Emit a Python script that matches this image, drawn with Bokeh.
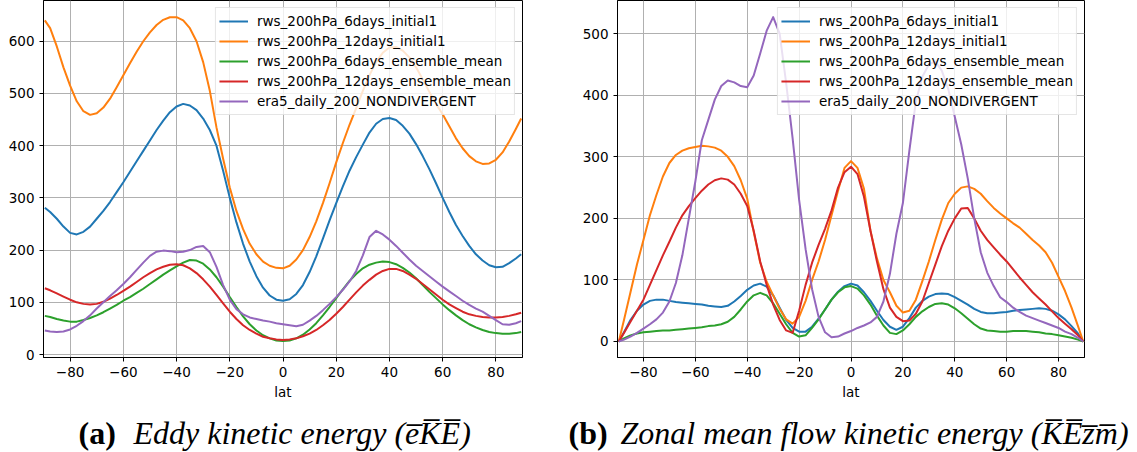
from bokeh.plotting import figure
from bokeh.layouts import row, column
from bokeh.models import Range1d, FixedTicker
from bokeh.core.properties import value
from bokeh.embed import file_html
from bokeh.resources import INLINE

# ---------------- data ----------------
lat = [-89.5, -87.5, -85, -82.5, -80, -77.5, -75, -72.5, -70, -67.5,
       -65, -62.5, -60, -57.5, -55, -52.5, -50, -47.5, -45, -42.5,
       -40, -37.5, -35, -32.5, -30, -27.5, -25, -22.5, -20, -17.5,
       -15, -12.5, -10, -7.5, -5, -2.5, 0, 2.5, 5, 7.5,
       10, 12.5, 15, 17.5, 20, 22.5, 25, 27.5, 30, 32.5,
       35, 37.5, 40, 42.5, 45, 47.5, 50, 52.5, 55, 57.5,
       60, 62.5, 65, 67.5, 70, 72.5, 75, 77.5, 80, 82.5,
       85, 87.5, 89.5]

series_names = ["rws_200hPa_6days_initial1", "rws_200hPa_12days_initial1",
                "rws_200hPa_6days_ensemble_mean", "rws_200hPa_12days_ensemble_mean",
                "era5_daily_200_NONDIVERGENT"]
series_colors = ["#1f77b4", "#ff7f0e", "#2ca02c", "#d62728", "#9467bd"]

# (a) Eddy kinetic energy
eke_6days_initial1 = [281, 273, 260, 245, 233, 230, 235, 245, 260, 275,
                      292, 311, 330, 350, 370, 390, 410, 430, 448, 464,
                      475, 480, 477, 468, 452, 430, 400, 352, 300, 253,
                      212, 178, 150, 128, 113, 105, 103, 106, 116, 133,
                      158, 188, 222, 257, 290, 322, 352, 378, 402, 425,
                      442, 451, 453, 449, 438, 423, 403, 380, 355, 328,
                      300, 273, 248, 227, 208, 192, 180, 171, 167, 168,
                      175, 184, 192]
eke_12days_initial1 = [640, 625, 590, 550, 515, 485, 466, 459, 462, 473,
                       490, 512, 535, 558, 580, 600, 617, 631, 641, 646,
                       646, 640, 625, 600, 560, 505, 435, 375, 320, 275,
                       240, 212, 192, 178, 170, 166, 165, 170, 182, 200,
                       225, 255, 290, 328, 368, 405, 440, 472, 505, 535,
                       560, 578, 588, 589, 582, 569, 550, 527, 503, 480,
                       460, 437, 414, 395, 380, 370, 365, 366, 373, 387,
                       408, 432, 452]
eke_6days_ensemble = [74, 72, 68, 65, 63, 63, 66, 70, 75, 81,
                      88, 95, 103, 110, 118, 126, 135, 144, 153, 161,
                      169, 176, 181, 180, 174, 163, 148, 130, 110, 91,
                      73, 58, 46, 37, 31, 27, 26, 27, 31, 38,
                      48, 60, 75, 91, 108, 125, 141, 154, 165, 172,
                      176, 178, 177, 173, 166, 157, 146, 133, 120, 108,
                      96, 85, 75, 66, 58, 52, 47, 43, 41, 40,
                      40, 41, 43]
eke_12days_ensemble = [127, 123, 117, 111, 105, 100, 97, 96, 97, 101,
                       107, 114, 122, 130, 139, 148, 156, 163, 168, 172,
                       173, 171, 165, 156, 144, 130, 114, 98, 82, 68,
                       56, 47, 40, 34, 31, 29, 28, 29, 31, 35,
                       40, 47, 56, 66, 78, 91, 105, 119, 132, 143,
                       153, 160, 164, 164, 160, 153, 145, 135, 125, 115,
                       105, 96, 89, 82, 77, 74, 72, 71, 71, 72,
                       74, 77, 80]
eke_era5 = [46, 44, 43, 44, 48, 55, 64, 75, 88, 100,
            112, 123, 135, 148, 162, 176, 189, 197, 199, 198,
            196, 197, 200, 206, 208, 196, 168, 133, 105, 87,
            77, 71, 68, 65, 63, 60, 58, 56, 54, 57,
            65, 74, 85, 97, 110, 124, 140, 160, 190, 225,
            237, 230, 220, 208, 195, 182, 170, 160, 150, 140,
            130, 121, 112, 103, 95, 88, 82, 74, 66, 58,
            57, 60, 64]

# (b) Zonal mean flow kinetic energy
kezm_6days_initial1 = [0, 15, 35, 50, 60, 66, 68, 68, 66, 64,
                       63, 62, 61, 60, 58, 57, 56, 58, 65, 74,
                       84, 91, 94, 89, 75, 55, 35, 22, 16, 16,
                       24, 37, 52, 68, 81, 90, 94, 91, 80, 66,
                       50, 35, 24, 19, 24, 38, 55, 66, 73, 77,
                       78, 77, 72, 66, 60, 53, 48, 46, 46, 47,
                       48, 50, 51, 52, 53, 54, 53, 50, 44, 36,
                       25, 13, 0]
kezm_12days_initial1 = [0, 35, 80, 125, 165, 205, 238, 268, 290, 303,
                        310, 314, 316, 318, 317, 315, 310, 300, 285, 262,
                        232, 178, 128, 97, 75, 53, 36, 29, 40, 66,
                        100, 130, 165, 205, 245, 282, 293, 282, 248, 180,
                        135, 100, 80, 58, 47, 50, 68, 98, 130, 165,
                        198, 225, 240, 250, 252, 248, 240, 228, 217, 208,
                        200, 192, 185, 175, 165, 156, 145, 128, 105, 82,
                        55, 25, 0]
kezm_6days_ensemble = [0, 5, 10, 13, 15, 16, 17, 18, 18, 19,
                       20, 21, 22, 23, 25, 26, 28, 32, 40, 52,
                       65, 75, 79, 75, 62, 45, 28, 14, 8, 10,
                       22, 36, 52, 68, 80, 88, 90, 86, 75, 60,
                       42, 26, 14, 12, 18, 28, 40, 49, 56, 61,
                       62, 60, 54, 46, 37, 28, 21, 18, 17, 16,
                       16, 17, 17, 17, 16, 15, 13, 12, 10, 8,
                       6, 3, 0]
kezm_12days_ensemble = [0, 14, 32, 50, 68, 92, 116, 140, 162, 185,
                        205, 220, 233, 245, 255, 262, 265, 263, 255, 240,
                        220, 180, 130, 92, 60, 35, 18, 14, 50, 92,
                        128, 157, 183, 213, 250, 275, 284, 272, 235, 180,
                        130, 85, 55, 40, 33, 34, 45, 65, 95, 125,
                        155, 180, 200, 216, 217, 200, 180, 165, 153, 141,
                        130, 117, 104, 92, 80, 70, 60, 49, 38, 29,
                        20, 10, 0]
kezm_era5 = [0, 3, 8, 14, 21, 28, 36, 47, 65, 95,
             140, 200, 260, 327, 360, 393, 415, 424, 421, 415,
             413, 432, 468, 505, 527, 500, 420, 330, 230, 150,
             85, 40, 15, 7, 8, 13, 17, 22, 26, 31,
             40, 65, 110, 175, 225, 310, 390, 430, 450, 455,
             440, 410, 365, 320, 265, 200, 145, 112, 90, 72,
             64, 55, 48, 42, 38, 34, 30, 26, 22, 16,
             12, 6, 0]

x_ticks = [-80, -60, -40, -20, 0, 20, 40, 60, 80]
y_ticks_a = [0, 100, 200, 300, 400, 500, 600]
y_ticks_b = [0, 100, 200, 300, 400, 500]

caption_tags = ["(a)", "(b)"]
caption_texts = ["Eddy kinetic energy (e\u0305K\u0305E\u0305)",
                 "Zonal mean flow kinetic energy (K\u0305E\u0305z\u0305m\u0305)"]

FONT = "DejaVu Sans"
TICK_SIZE = "13.5px"
PLOT_H = 405


def make_panel(values, y0, y1, yticks, width, bl, br):
    p = figure(width=width, height=PLOT_H, x_range=Range1d(-90, 90), y_range=Range1d(y0, y1),
               output_backend="svg", toolbar_location=None,
               min_border_left=bl, min_border_right=br, min_border_top=0,
               min_border_bottom=48)
    for vals, name, col in zip(values, series_names, series_colors):
        p.line(lat, vals, line_color=col, line_width=2, legend_label=name,
               line_join="round")

    p.xaxis.ticker = FixedTicker(ticks=x_ticks)
    p.yaxis.ticker = FixedTicker(ticks=yticks)
    for ax in (p.xaxis[0], p.yaxis[0]):
        ax.major_label_text_font = FONT
        ax.major_label_text_font_size = TICK_SIZE
        ax.major_label_text_color = "black"
        ax.axis_line_color = "black"
        ax.major_tick_line_color = "black"
        ax.major_tick_out = 4
        ax.major_tick_in = 0
        ax.minor_tick_line_color = None
        ax.major_label_standoff = 5
    p.xaxis.axis_label = "lat"
    p.xaxis.axis_label_text_font = FONT
    p.xaxis.axis_label_text_font_size = TICK_SIZE
    p.xaxis.axis_label_text_font_style = "normal"
    p.xaxis.axis_label_text_color = "black"
    p.xaxis.axis_label_standoff = 4

    p.grid.grid_line_color = "#b0b0b0"
    p.grid.grid_line_width = 1
    p.outline_line_color = "black"
    p.outline_line_width = 1
    p.background_fill_color = "white"
    p.border_fill_color = "white"

    lg = p.legend[0]
    lg.location = "top_right"
    lg.margin = 7
    lg.padding = 3
    lg.spacing = 0
    lg.label_height = 20
    lg.glyph_height = 20
    lg.glyph_width = 29
    lg.label_standoff = 9
    lg.label_text_font = FONT
    lg.label_text_font_size = TICK_SIZE
    lg.label_text_color = "black"
    lg.border_line_color = "#cccccc"
    lg.border_line_width = 1
    lg.background_fill_color = "white"
    lg.background_fill_alpha = 0.8
    return p


p1 = make_panel([eke_6days_initial1, eke_12days_initial1, eke_6days_ensemble,
                 eke_12days_ensemble, eke_era5],
                -5.7, 678, y_ticks_a, 568, 43, 46)
p2 = make_panel([kezm_6days_initial1, kezm_12days_initial1, kezm_6days_ensemble,
                 kezm_12days_ensemble, kezm_era5],
                -26, 554, y_ticks_b, 569, 49, 53)

# caption strip (pixel coordinates across the whole width)
CAP_H = 452 - PLOT_H
cap = figure(width=1137, height=CAP_H, x_range=Range1d(0, 1137), y_range=Range1d(0, CAP_H),
             output_backend="svg", toolbar_location=None,
             min_border=0, outline_line_color=None)
cap.axis.visible = False
cap.grid.visible = False
cap.text(x=[78, 568], y=[20, 20], text=caption_tags, text_font=value("Liberation Serif"),
         text_font_size="32px", text_font_style="bold", text_baseline="middle",
         text_align="left", text_color="black")
cap.text(x=[133, 620], y=[20, 20], text=caption_texts, text_font=value("Liberation Serif"),
         text_font_size="32px", text_font_style="italic", text_baseline="middle",
         text_align="left", text_color="black")

layout = column(row(p1, p2), cap)
open("out.html", "w").write(file_html(layout, INLINE))
